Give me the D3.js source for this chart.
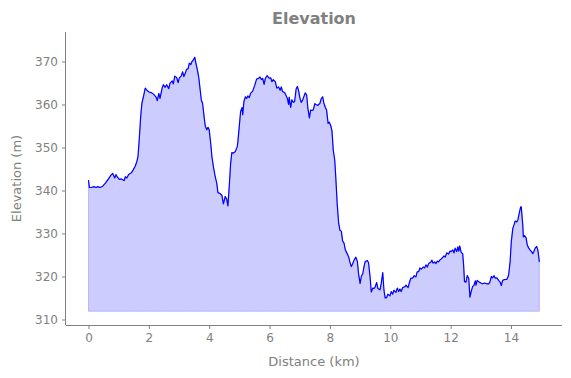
<!DOCTYPE html>
<html>
<head>
<meta charset="utf-8">
<script src="https://cdn.jsdelivr.net/npm/d3@7"></script>
<style>
  html, body { margin: 0; padding: 0; background: #fff; }
  svg { display: block; font-family: "DejaVu Sans", sans-serif; }
</style>
</head>
<body>
<svg id="chart" width="571" height="378"></svg>
<script>
// Distance along the route (km)
const distanceKm = [
  0.00,0.03,0.09,0.18,0.25,0.31,0.38,0.47,0.56,0.65,0.74,0.80,0.87,0.91,0.95,1.02,1.09,1.18,1.22,1.27,
  1.33,1.42,1.48,1.55,1.60,1.64,1.68,1.73,1.77,1.82,1.88,1.95,2.01,2.10,2.17,2.24,2.28,2.33,2.37,2.44,
  2.48,2.54,2.59,2.66,2.70,2.77,2.81,2.86,2.92,2.97,3.01,3.07,3.12,3.16,3.21,3.25,3.30,3.34,3.39,3.43,
  3.47,3.52,3.56,3.61,3.65,3.69,3.74,3.78,3.83,3.87,3.92,3.96,4.00,4.05,4.09,4.14,4.20,4.25,4.29,4.36,
  4.42,4.47,4.53,4.58,4.62,4.67,4.71,4.75,4.80,4.86,4.93,4.95,5.00,5.04,5.09,5.11,5.15,5.20,5.24,5.28,
  5.33,5.37,5.44,5.51,5.57,5.64,5.68,5.73,5.77,5.82,5.86,5.92,5.99,6.04,6.08,6.12,6.19,6.24,6.30,6.35,
  6.39,6.43,6.50,6.54,6.59,6.63,6.65,6.70,6.74,6.79,6.83,6.88,6.92,6.96,7.01,7.05,7.10,7.14,7.18,7.23,
  7.27,7.32,7.36,7.41,7.45,7.50,7.54,7.60,7.67,7.71,7.76,7.80,7.85,7.89,7.94,7.98,8.03,8.07,8.11,8.16,
  8.20,8.24,8.29,8.33,8.38,8.42,8.47,8.51,8.58,8.62,8.66,8.71,8.75,8.80,8.86,8.91,8.95,9.00,9.04,9.09,
  9.13,9.17,9.24,9.28,9.33,9.37,9.42,9.46,9.50,9.55,9.59,9.66,9.70,9.75,9.79,9.83,9.88,9.92,9.99,10.03,
  10.08,10.12,10.19,10.23,10.28,10.32,10.36,10.41,10.48,10.52,10.59,10.63,10.68,10.74,10.79,10.85,10.89,10.94,10.98,11.03,
  11.09,11.14,11.18,11.23,11.27,11.34,11.38,11.42,11.47,11.51,11.56,11.60,11.65,11.71,11.78,11.82,11.87,11.93,11.98,12.02,
  12.07,12.11,12.15,12.20,12.24,12.27,12.30,12.35,12.40,12.43,12.46,12.51,12.55,12.60,12.64,12.68,12.73,12.77,12.82,12.84,
  12.88,12.93,13.00,13.06,13.13,13.19,13.26,13.30,13.35,13.39,13.44,13.48,13.53,13.59,13.64,13.68,13.72,13.79,13.86,13.92,
  13.97,14.01,14.06,14.10,14.14,14.19,14.23,14.27,14.32,14.34,14.39,14.41,14.45,14.50,14.54,14.59,14.63,14.68,14.72,14.76,
  14.80,14.85,14.89,14.94
];
// Elevation (m)
const elevationM = [
  342.4,340.7,340.7,340.9,340.7,340.9,340.7,341.0,341.7,342.6,343.5,344.0,342.9,343.7,343.2,342.6,342.7,342.3,343.2,342.9,
  343.7,344.1,344.8,345.7,346.7,347.9,351.7,357.2,360.3,361.8,363.8,363.2,362.9,362.7,362.3,361.7,360.9,362.6,361.4,363.8,
  364.6,364.0,364.6,363.7,364.9,365.5,364.8,366.6,366.3,365.1,366.2,366.6,367.6,366.5,367.3,368.2,368.3,369.6,369.3,370.0,
  370.3,371.0,369.6,368.0,366.5,364.1,361.0,360.3,357.2,355.0,354.1,354.7,354.1,351.0,347.9,345.5,343.2,341.7,339.5,339.3,
  338.9,336.9,338.6,338.0,336.4,341.7,346.3,348.8,348.7,349.0,350.2,351.3,355.2,358.3,359.3,357.6,360.7,361.8,361.4,362.0,
  361.6,362.6,363.1,364.5,365.9,366.1,366.4,365.8,366.1,364.7,366.1,366.7,366.1,366.2,365.3,365.8,365.3,363.8,364.1,363.3,
  364.1,363.0,362.8,362.2,361.4,360.0,361.7,359.3,361.1,360.5,360.7,363.6,364.2,363.3,361.4,360.5,361.1,361.9,362.7,362.2,
  359.1,356.9,358.7,358.6,358.8,360.2,360.0,359.8,360.3,361.3,361.8,360.3,359.3,358.7,355.6,355.9,355.0,353.8,349.4,347.1,
  342.4,337.0,332.4,330.8,330.5,328.3,327.7,326.2,325.2,324.6,323.4,322.3,322.9,323.8,324.5,323.5,320.6,318.4,320.0,320.7,
  322.3,323.5,323.7,323.2,320.0,316.4,317.3,317.2,317.6,318.6,317.2,316.9,318.4,320.9,316.9,315.0,315.1,315.9,315.5,316.5,
  315.9,316.8,316.3,317.3,316.5,317.1,316.5,317.4,317.6,318.0,317.4,318.5,319.6,319.6,320.2,319.9,321.1,321.1,322.0,321.7,
  322.2,322.0,322.7,322.2,323.0,323.3,323.8,323.1,323.4,323.0,323.6,323.4,323.9,324.2,324.8,324.5,325.5,325.2,325.9,325.8,
  326.2,325.5,326.6,325.8,326.9,325.9,327.1,325.6,325.3,322.7,318.8,318.7,320.2,319.6,315.2,316.5,317.7,317.9,319.0,318.0,
  319.1,318.8,318.5,318.3,318.5,318.3,318.3,318.7,320.0,319.7,320.2,319.6,319.7,319.1,318.7,317.9,319.1,319.3,319.3,320.3,
  323.4,328.1,331.2,332.0,332.9,332.7,333.2,334.6,336.2,336.2,332.0,329.2,329.5,329.0,327.3,326.6,326.2,325.8,325.3,325.8,
  326.6,327.0,326.2,323.4
];
const fillBase = 311.9;
const xTicks = [0, 2, 4, 6, 8, 10, 12, 14];
const yTicks = [310, 320, 330, 340, 350, 360, 370];
const xDomain = [-0.745, 15.69];
const yDomain = [308.72, 376.86];

const titleText = "Elevation";
const xLabel = "Distance (km)";
const yLabel = "Elevation (m)";

const W = 571, H = 378;
const plot = { left: 66, right: 562, top: 32, bottom: 325 };
const textColor = "#808080";
const axisColor = "#808080";

const svg = d3.select("#chart");
const x = d3.scaleLinear().domain(xDomain).range([plot.left, plot.right]);
const y = d3.scaleLinear().domain(yDomain).range([plot.bottom, plot.top]);

const data = distanceKm.map((d, i) => ({ d, e: elevationM[i] }));

// area
const area = d3.area().x(p => x(p.d)).y0(y(fillBase)).y1(p => y(p.e));
svg.append("path").datum(data)
  .attr("d", area)
  .attr("fill", "rgba(0,0,255,0.2)")
  .attr("stroke", "rgba(0,0,255,0.2)")
  .attr("stroke-width", 1);

// line
const line = d3.line().x(p => x(p.d)).y(p => y(p.e));
svg.append("path").datum(data)
  .attr("d", line)
  .attr("fill", "none")
  .attr("stroke", "#0000ff")
  .attr("stroke-width", 1.2)
  .attr("stroke-linejoin", "round");

// axes
const xAxis = d3.axisBottom(x).tickValues(xTicks).tickSize(4).tickPadding(4).tickFormat(d3.format("d"));
const yAxis = d3.axisLeft(y).tickValues(yTicks).tickSize(4).tickPadding(4).tickFormat(d3.format("d"));

const gx = svg.append("g").attr("transform", `translate(0,${plot.bottom})`).call(xAxis);
const gy = svg.append("g").attr("transform", `translate(${plot.left},0)`).call(yAxis);
[gx, gy].forEach(g => {
  g.select(".domain").attr("stroke", axisColor).attr("stroke-width", 1);
  g.selectAll(".tick line").attr("stroke", axisColor).attr("stroke-width", 1);
  g.selectAll(".tick text").attr("fill", textColor)
    .style("font-family", "DejaVu Sans, sans-serif").style("font-size", "12px");
});
// remove end caps from domain path (spine only)
gx.select(".domain").attr("d", `M${plot.left},0.5H${plot.right}`);
gy.select(".domain").attr("d", `M-0.5,${plot.bottom}V${plot.top}`);

// title
svg.append("text")
  .attr("x", (plot.left + plot.right) / 2).attr("y", 24)
  .attr("text-anchor", "middle")
  .attr("fill", textColor)
  .style("font-size", "16px").style("font-weight", "bold")
  .text(titleText);

// x label
svg.append("text")
  .attr("x", (plot.left + plot.right) / 2).attr("y", 366)
  .attr("text-anchor", "middle")
  .attr("fill", textColor)
  .style("font-size", "13px")
  .text(xLabel);

// y label
svg.append("text")
  .attr("transform", `translate(21,${(plot.top + plot.bottom) / 2}) rotate(-90)`)
  .attr("text-anchor", "middle")
  .attr("fill", textColor)
  .style("font-size", "13px")
  .text(yLabel);
</script>
</body>
</html>
